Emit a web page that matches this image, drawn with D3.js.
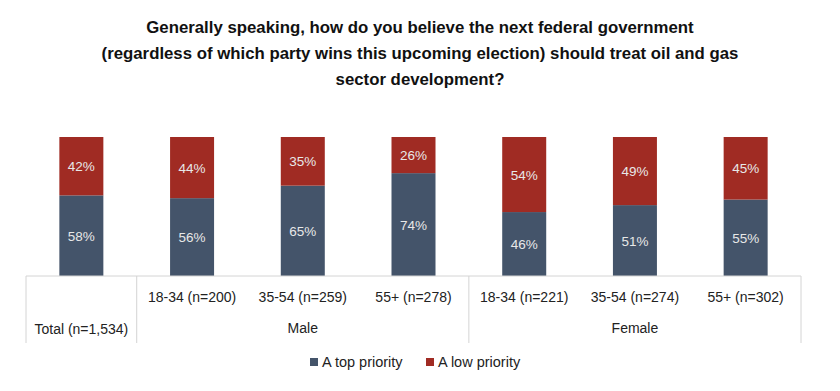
<!DOCTYPE html>
<html><head><meta charset="utf-8">
<script src="https://cdn.jsdelivr.net/npm/d3@7/dist/d3.min.js"></script>
<style>body{margin:0;background:#fff}svg{display:block}</style>
</head><body><svg id="c" width="840" height="391"></svg>
<script>
const categories = ["Total (n=1,534)","18-34 (n=200)","35-54 (n=259)","55+ (n=278)","18-34 (n=221)","35-54 (n=274)","55+ (n=302)"];
const groups = ["", "Male", "Male", "Male", "Female", "Female", "Female"];
const topPriority = [58,56,65,74,46,51,55];
const lowPriority = [42,44,35,26,54,49,45];
const seriesNames = ["A top priority","A low priority"];
const titleLines = ["Generally speaking, how do you believe the next federal government","(regardless of which party wins this upcoming election) should treat oil and gas","sector development?"];

(function(){
const colors = ["#44546A","#A02B23"];
const svg = d3.select("#c");
const L = 26, R = 801, T = 137, B = 276;
const xs = d3.scaleBand().domain(d3.range(categories.length)).range([L,R]).padding(0);
const y = d3.scaleLinear().domain([0,100]).range([B,T]);
const font = "'Liberation Sans', sans-serif";

svg.append("g").selectAll("text").data(titleLines).join("text")
  .attr("x",420).attr("y",(d,i)=>33+i*26).attr("text-anchor","middle")
  .attr("font-family",font).attr("font-weight","bold").attr("font-size",16.8).attr("fill","#111")
  .text(d=>d);

const data = categories.map((c,i)=>({i, v:[topPriority[i], lowPriority[i]]}));
const bw = 44;
data.forEach(d=>{
  let acc=0;
  d.v.forEach((v,k)=>{
    const cx = xs(d.i)+xs.bandwidth()/2;
    svg.append("rect").attr("x",cx-bw/2).attr("width",bw)
      .attr("y",y(acc+v)).attr("height",y(acc)-y(acc+v)).attr("fill",colors[k]);
    svg.append("text").attr("x",cx).attr("y",(y(acc)+y(acc+v))/2+5)
      .attr("text-anchor","middle").attr("font-family",font)
      .attr("font-size",13.5).attr("fill","#e8e8e8").text(v+"%");
    acc+=v;
  });
});

const lc = "#d4d4d4";
svg.append("line").attr("x1",L).attr("x2",R).attr("y1",B).attr("y2",B).attr("stroke",lc);
[0,1,4,7].forEach(i=>{
  const xx = i===7?R:xs(i);
  svg.append("line").attr("x1",xx).attr("x2",xx).attr("y1",B).attr("y2",343).attr("stroke",lc);
});

categories.forEach((c,i)=>{
  const cx = xs(i)+xs.bandwidth()/2;
  svg.append("text").attr("x",cx).attr("y", i===0?334:301.5).attr("text-anchor","middle")
    .attr("font-family",font).attr("font-size",14).attr("fill","#222").text(c);
});
["Male","Female"].forEach(g=>{
  const idx = groups.map((d,i)=>d===g?i:-1).filter(i=>i>=0);
  const cx = (xs(idx[0]) + xs(idx[idx.length-1])+xs.bandwidth())/2;
  svg.append("text").attr("x",cx).attr("y",333).attr("text-anchor","middle")
    .attr("font-family",font).attr("font-size",14).attr("fill","#222").text(g);
});

const lx = [310, 426];
seriesNames.forEach((s,k)=>{
  svg.append("rect").attr("x",lx[k]).attr("y",358).attr("width",8).attr("height",8).attr("fill",colors[k]);
  svg.append("text").attr("x",lx[k]+12).attr("y",367).attr("font-family",font)
    .attr("font-size",14.5).attr("fill","#222").text(s);
});
})();
</script></body></html>
